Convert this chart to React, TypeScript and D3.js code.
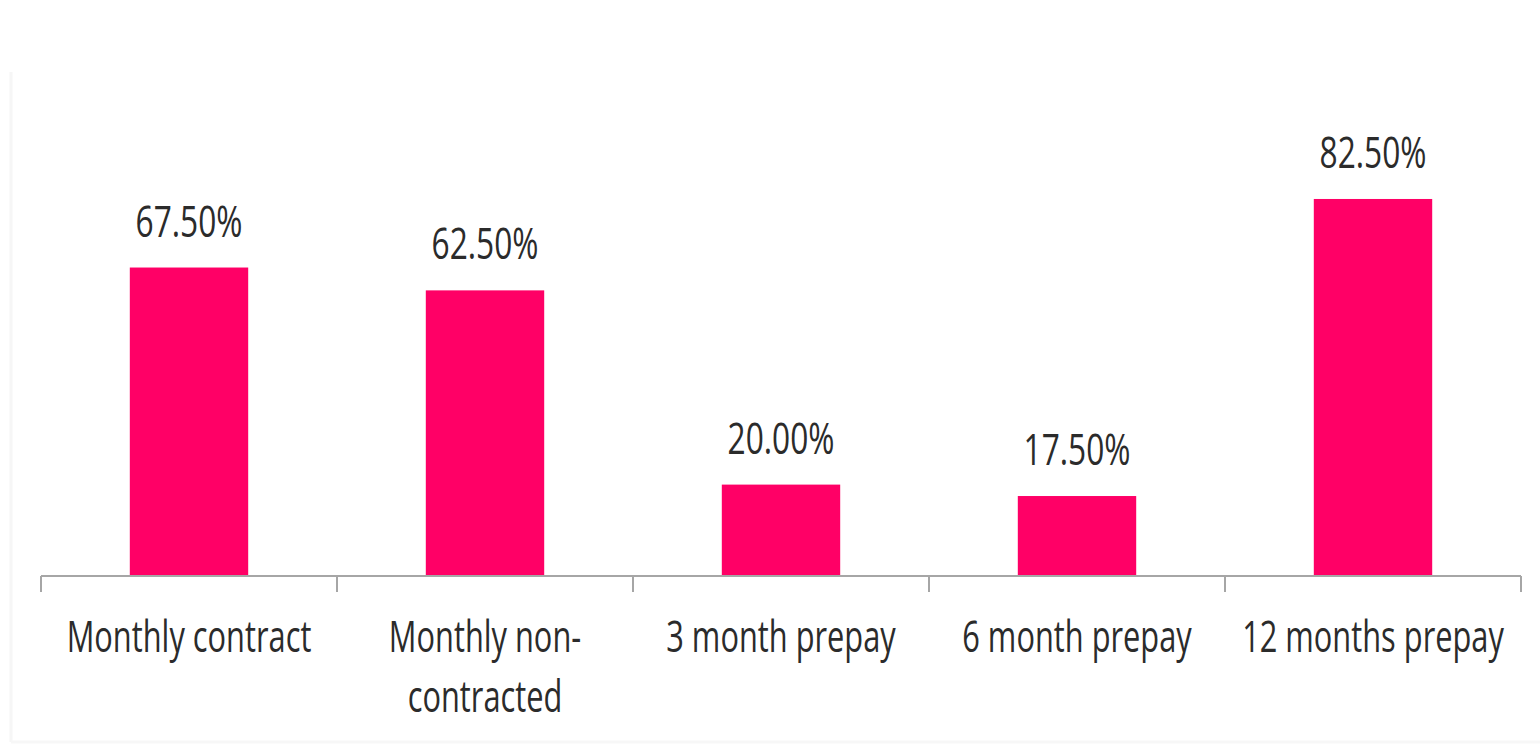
import React from "react";
import * as d3 from "d3";

const categories = ["Monthly contract", "Monthly non-contracted", "3 month prepay", "6 month prepay", "12 months prepay"];
const categoryLines = [["Monthly contract"], ["Monthly non-", "contracted"], ["3 month prepay"], ["6 month prepay"], ["12 months prepay"]];
const values = [67.5, 62.5, 20.0, 17.5, 82.5];
const valueLabels = ["67.50%", "62.50%", "20.00%", "17.50%", "82.50%"];

const W = 1540;
const H = 747;
const left = 41;
const right = 1521;
const baseY = 576;

export default function App() {
  const x = d3.scaleBand<string>().domain(categories).range([left, right]).paddingInner(0.6).paddingOuter(0.3);
  const y = d3.scaleLinear().domain([0, 100]).range([baseY, baseY - 457]);
  const step = x.step();
  const tickXs = d3.range(categories.length + 1).map((i) => left + i * step);
  const font = "'Open Sans', sans-serif";
  const sx = 0.7;

  return (
    <svg width={W} height={H} style={{ position: "absolute", left: 0, top: 0, background: "#fff" }}>
      <rect x={0} y={0} width={W} height={H} fill="#fff" />
      <line x1={11} y1={72} x2={11} y2={742} stroke="#f6f6f6" strokeWidth={3} />
      <line x1={11} y1={742} x2={1540} y2={742} stroke="#f7f7f7" strokeWidth={3} />
      {values.map((v, i) => (
        <rect key={i} x={x(categories[i])} y={y(v)} width={x.bandwidth()} height={baseY - y(v)} fill="#ff0066" />
      ))}
      <line x1={left} y1={baseY} x2={right} y2={baseY} stroke="#a6a6a6" strokeWidth={2} />
      {tickXs.map((tx, i) => (
        <line key={i} x1={tx} y1={baseY} x2={tx} y2={baseY + 16} stroke="#a6a6a6" strokeWidth={2} />
      ))}
      {values.map((v, i) => {
        const cx = (x(categories[i]) as number) + x.bandwidth() / 2;
        return (
          <text
            key={i}
            transform={`translate(${cx},${y(v) - 31}) scale(0.72,1)`}
            textAnchor="middle"
            fontFamily={font}
            fontSize={44}
            fill="#2b2b2b"
          >
            {valueLabels[i]}
          </text>
        );
      })}
      {categoryLines.map((lines, i) => {
        const cx = (x(categories[i]) as number) + x.bandwidth() / 2;
        return lines.map((ln, j) => (
          <text
            key={`${i}-${j}`}
            transform={`translate(${cx},${652 + j * 60}) scale(${sx},1)`}
            textAnchor="middle"
            fontFamily={font}
            fontSize={44}
            fill="#2b2b2b"
          >
            {ln}
          </text>
        ));
      })}
    </svg>
  );
}
